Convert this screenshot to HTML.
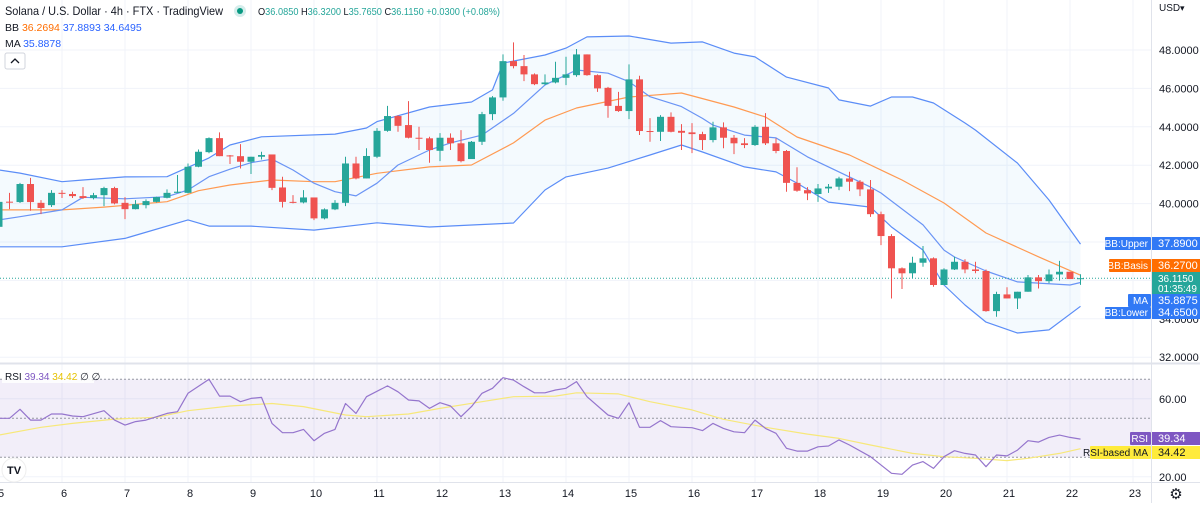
<!DOCTYPE html>
<html><head><meta charset="utf-8">
<style>
html,body{margin:0;padding:0;background:#fff;}
body{width:1200px;height:503px;overflow:hidden;font-family:"Liberation Sans",sans-serif;}
svg text{font-family:"Liberation Sans",sans-serif;}
</style></head>
<body>
<svg id="chart" width="1200" height="503" viewBox="0 0 1200 503" xmlns="http://www.w3.org/2000/svg"></svg>
<script>
const opens=[38.79,40.10,40.08,41.02,40.04,39.92,40.56,40.50,40.39,40.29,40.44,40.81,40.04,39.71,39.92,40.09,40.30,40.56,40.56,41.92,42.68,43.41,42.51,42.47,42.18,42.44,42.56,40.84,40.09,40.06,40.32,39.23,39.70,40.04,42.09,41.31,42.44,43.79,44.56,44.09,43.43,43.40,42.75,43.43,43.14,42.32,43.22,44.66,45.53,47.42,47.16,46.73,46.22,46.31,46.55,46.69,47.77,46.69,46.03,45.09,44.82,46.47,43.78,43.74,44.52,43.79,43.71,43.62,43.31,43.97,43.43,43.14,43.05,44.00,43.14,42.74,41.08,40.70,40.50,40.79,40.88,41.31,41.14,40.74,39.45,38.31,36.63,36.37,36.92,37.15,35.76,36.57,36.97,36.57,36.49,34.40,35.27,35.06,35.41,36.16,35.96,36.31,36.45,36.085];
const closes=[40.09,40.07,41.02,40.08,39.77,40.56,40.55,40.39,40.29,40.44,40.81,40.01,39.71,39.97,40.13,40.34,40.56,40.62,41.92,42.70,43.41,42.47,42.49,42.18,42.44,42.53,40.82,40.09,40.08,40.32,39.23,39.70,40.04,42.09,41.31,42.48,43.79,44.56,44.05,43.43,43.42,42.79,43.43,43.14,42.21,43.22,44.66,45.53,47.42,47.16,46.73,46.22,46.31,46.55,46.73,47.77,46.69,46.00,45.09,44.82,46.47,43.78,43.77,44.52,43.74,43.69,43.62,43.31,43.97,43.43,43.14,43.05,44.00,43.14,42.74,41.08,40.67,40.53,40.79,40.88,41.31,41.14,40.74,39.45,38.31,36.63,36.37,36.92,37.15,35.76,36.57,36.97,36.57,36.49,34.40,35.29,35.06,35.41,36.16,35.96,36.31,36.45,36.07,36.115];
const highs=[40.39,40.56,41.08,41.34,40.18,40.70,40.70,40.62,40.86,40.56,40.88,40.88,40.34,40.18,40.22,40.36,40.74,41.49,42.09,42.82,43.45,43.71,42.53,43.10,42.44,42.70,42.56,41.40,40.44,40.70,40.32,39.75,40.18,42.44,42.44,42.88,43.93,45.09,44.61,45.34,44.00,43.48,43.67,43.66,43.83,43.26,44.78,45.60,47.77,48.40,47.74,46.78,46.73,47.39,47.65,48.05,47.77,46.73,46.08,45.82,47.25,46.66,44.45,44.61,44.75,44.14,44.19,43.74,44.26,44.23,43.57,43.41,44.09,44.71,43.40,42.79,41.89,40.86,41.02,41.02,41.40,41.66,41.23,41.23,39.58,38.41,36.68,37.23,37.79,37.20,36.63,37.23,37.10,36.97,36.57,35.41,35.64,35.41,36.28,36.28,36.57,37.02,36.45,36.32];
const lows=[38.52,39.71,40.03,39.63,39.45,39.82,40.29,40.29,40.24,40.22,39.87,39.96,39.19,39.70,39.75,40.06,40.27,40.56,40.53,41.89,42.62,42.47,42.06,41.83,41.54,42.30,40.70,39.80,40.01,40.01,39.14,39.18,39.66,39.87,41.26,41.31,42.37,43.74,43.74,43.40,42.79,42.13,42.21,42.79,42.15,42.32,43.05,44.35,45.36,47.04,46.38,46.17,46.17,46.26,46.17,46.61,46.66,45.82,44.47,44.78,44.40,43.57,43.22,43.26,43.71,42.79,42.63,42.79,43.19,42.88,42.58,42.89,43.00,43.05,42.62,40.62,40.62,40.18,40.09,40.56,40.70,40.65,40.39,39.31,37.84,35.06,35.55,36.12,36.71,35.67,35.76,36.54,36.37,36.37,34.37,34.11,35.06,34.51,35.41,35.58,35.85,35.99,36.07,35.765];
const upperIdx=[0,2,6,8,12,16,19,20,22,25,32,35,36,41,45,47,48,52,54,56,60,64,67,70,72,75,79,80,83,85,87,89,92,93,97,100,103];
const upperVals=[41.75,41.59,41.14,41.23,41.39,41.40,42.13,42.38,43.05,43.48,43.62,43.94,44.27,45.03,45.29,45.92,47.32,47.74,48.10,48.68,48.73,48.36,48.42,47.84,47.64,46.59,46.02,45.40,45.08,45.55,45.55,45.24,44.20,43.83,42.11,40.19,37.89];
const basisIdx=[0,6,10,16,19,22,26,30,32,36,41,45,49,52,55,60,65,70,73,76,81,86,90,94,99,103];
const basisVals=[39.67,39.67,39.82,40.10,40.67,40.97,41.23,41.14,41.14,41.58,41.91,42.01,43.16,44.35,44.98,45.55,45.76,45.03,44.51,43.47,42.53,41.23,40.03,38.47,37.23,36.27];
const lowerIdx=[0,6,12,18,20,24,30,36,41,49,52,54,58,62,65,67,71,74,76,79,83,85,88,90,92,94,97,100,103];
const lowerVals=[37.75,37.75,38.19,39.15,38.83,38.83,38.62,39.00,38.78,38.99,40.71,41.39,41.85,42.53,43.05,42.69,41.91,41.65,41.07,40.08,39.82,38.78,37.58,35.76,34.72,33.83,33.26,33.42,34.65];
const maIdx=[0,2,6,8,12,16,18,20,22,24,26,28,30,32,34,36,38,41,43,46,49,52,55,58,60,62,65,67,68,71,74,77,80,83,84,88,90,91,94,97,102,103];
const maVals=[39.15,39.32,39.67,40.33,40.25,40.36,40.71,41.40,41.79,42.13,42.31,41.75,41.06,40.62,40.40,41.06,42.01,42.79,43.16,43.57,44.70,46.18,46.96,46.79,46.35,45.57,45.05,44.44,44.09,43.57,43.42,42.43,41.65,40.86,40.55,38.89,37.58,37.22,36.49,35.92,35.76,35.89];
const rsiIdx=[0,1,2,3,4,5,6,7,8,10,11,12,13,14,16,17,18,20,21,22,23,24,25,26,27,28,29,30,31,32,33,34,35,37,38,39,40,41,42,43,44,45,46,47,48,49,50,51,52,53,54,55,56,58,59,60,61,62,63,64,65,66,67,68,69,70,71,72,73,74,75,76,77,78,79,80,81,83,85,86,87,88,89,90,91,92,93,94,95,96,97,98,99,100,101,102,103];
const rsiVals=[50.0,50.0,54.6,49.1,49.1,52.2,52.2,51.2,50.8,53.9,49.1,46.5,48.3,49.1,52.5,53.4,62.8,70.0,61.4,61.4,58.5,60.2,60.7,47.4,42.6,42.6,44.3,38.5,42.3,44.3,57.6,52.5,61.1,66.6,63.6,59.4,58.9,55.1,58.0,56.3,50.8,56.0,62.8,65.4,70.8,69.6,66.2,63.1,63.1,64.5,65.4,68.8,61.1,51.7,50.0,58.0,45.4,45.4,48.8,45.7,45.4,45.2,43.7,47.4,44.8,43.1,42.6,49.1,44.8,42.3,34.6,33.2,33.2,35.4,35.8,38.9,36.3,30.3,21.8,21.3,26.0,27.8,24.3,30.3,33.4,32.0,31.2,25.2,31.2,30.7,33.7,38.5,37.8,40.2,41.4,40.2,39.34];
const rsiMaIdx=[0,4,7,11,15,18,22,26,29,33,35,39,42,46,49,53,55,59,62,66,69,73,77,80,83,87,90,93,96,98,101,103];
const rsiMaVals=[41.4,45.4,47.4,49.6,50.5,53.9,56.3,57.6,56.0,51.7,50.8,52.2,55.1,58.5,61.1,61.4,63.1,62.5,58.5,54.3,49.5,45.4,41.9,39.7,36.3,32.0,30.3,29.5,28.3,29.5,32.0,34.42];
const priceTicks=[48,46,44,42,40,38,36,34,32];
const rsiTicks=[60,20];
const rsiLevels=[70,50,30];
const dayLabels=["5","6","7","8","9","10","11","12","13","14","15","16","17","18","19","20","21","22","23"];

const NS="http://www.w3.org/2000/svg";
const svg=document.getElementById('chart');
const PLOT_R=1151;
const X=k=>-1+10.5*k;
const Y=p=>50+(48-p)*19.2;
const YR=v=>379.3+(70-v)*1.95;
function mk(tag,attrs,parent){const e=document.createElementNS(NS,tag);for(const a in attrs)e.setAttribute(a,attrs[a]);(parent||svg).appendChild(e);return e;}
function txt(s,x,y,attrs,parent){const e=mk('text',Object.assign({x:x,y:y},attrs),parent);e.textContent=s;return e;}

const grid=mk('g',{});


dayLabels.forEach((d,i)=>{const x=X(i*6);mk('line',{x1:x,x2:x,y1:0,y2:482,stroke:'#f0f3fa','stroke-width':1},grid);});
priceTicks.forEach(p=>{mk('line',{x1:0,x2:PLOT_R,y1:Y(p),y2:Y(p),stroke:'#f0f3fa'},grid);});
rsiTicks.forEach(v=>{mk('line',{x1:0,x2:PLOT_R,y1:YR(v),y2:YR(v),stroke:'#f0f3fa'},grid);});

function pts(idx,vals,f){return idx.map((k,i)=>X(k).toFixed(1)+','+f(vals[i]).toFixed(1));}
const fill=mk('polygon',{points:pts(upperIdx,upperVals,Y).concat(pts(lowerIdx,lowerVals,Y).reverse()).join(' '),fill:'rgba(33,150,243,0.05)'});


function line(idx,vals,f,color,name,w){const e=mk('polyline',{points:pts(idx,vals,f).join(' '),fill:'none',stroke:color,'stroke-width':w||1.2,'stroke-linejoin':'round'});return e;}
line(upperIdx,upperVals,Y,'#5b8df7','bb-upper-line');
line(lowerIdx,lowerVals,Y,'#5b8df7','bb-lower-line');
line(basisIdx,basisVals,Y,'#ff9a52','bb-basis-line');
line(maIdx,maVals,Y,'#6a94f5','ma-line');

const pl=mk('line',{x1:0,x2:PLOT_R,y1:Y(36.115),y2:Y(36.115),stroke:'#26a69a','stroke-dasharray':'1 2','stroke-width':1});



const cg=mk('g',{});


opens.forEach((o,k)=>{
  const c=closes[k],up=c>=o,col=up?'#26a69a':'#ef5350',x=X(k);
  const g=mk('g',{},cg);
  
  
  mk('line',{x1:x,x2:x,y1:Y(highs[k]),y2:Y(lows[k]),stroke:col,'stroke-width':1},g);
  const t=Y(Math.max(o,c)),b=Y(Math.min(o,c));
  mk('rect',{x:x-3.5,y:t,width:7,height:Math.max(1,b-t),fill:col},g);
});

mk('line',{x1:0,x2:1200,y1:363.5,y2:363.5,stroke:'#e0e3eb','stroke-width':2});
mk('line',{x1:PLOT_R+0.5,x2:PLOT_R+0.5,y1:0,y2:503,stroke:'#e0e3eb'});
mk('line',{x1:0,x2:1200,y1:482.5,y2:482.5,stroke:'#e0e3eb'});

const rf=mk('rect',{x:0,y:YR(70),width:PLOT_R,height:YR(30)-YR(70),fill:'rgba(126,87,194,0.1)'});


rsiLevels.forEach(v=>{const l=mk('line',{x1:0,x2:PLOT_R,y1:YR(v),y2:YR(v),stroke:'#9598a1','stroke-dasharray':'2 2','stroke-width':1});});
line(rsiMaIdx,rsiMaVals,YR,'#f7e87a','rsi-ma-line',1.2);
line(rsiIdx,rsiVals,YR,'#9575cd','rsi-line',1.2);

const ax=mk('g',{'font-size':11,fill:'#131722'});


priceTicks.forEach(p=>txt(p.toFixed(4),1159,Y(p)+4,{},ax));
rsiTicks.forEach(v=>txt(v.toFixed(2),1159,YR(v)+4,{},ax));
txt('USD',1159,11,{'font-size':10},ax);
txt('▾',1180,11,{'font-size':9},ax);

const tx=mk('g',{'font-size':11,fill:'#131722','text-anchor':'middle'});


dayLabels.forEach((d,i)=>txt(d,X(i*6)+2,497,{},tx));

function tag(label,val,y,h,bg,fg,lx,name){
  const g=mk('g',{});
  
  
  if(label){mk('rect',{x:lx,y:y,width:PLOT_R-lx,height:h,fill:bg,rx:1},g);txt(label,PLOT_R-3,y+h-3,{'font-size':10,fill:fg,'text-anchor':'end'},g);}
  mk('rect',{x:PLOT_R+1,y:y,width:48,height:h,fill:bg},g);
  txt(val,1158,y+h-3,{'font-size':11,fill:fg},g);
}
tag('BB:Upper','37.8900',237,13,'#3179f5','#fff',1105,'bb-upper-tag');
tag('BB:Basis','36.2700',259,13,'#ff6d00','#fff',1109,'bb-basis-tag');
const cp=mk('g',{});


mk('rect',{x:PLOT_R+1,y:272,width:48,height:22,fill:'#26a69a'},cp);
txt('36.1150',1158,282,{'font-size':10,fill:'#fff'},cp);
txt('01:35:49',1158,292,{'font-size':10,fill:'#fff'},cp);
tag('MA','35.8875',294,13,'#3179f5','#fff',1128,'ma-tag');
tag('BB:Lower','34.6500',307,12,'#3179f5','#fff',1105,'bb-lower-tag');
tag('RSI','39.34',432,13,'#7e57c2','#fff',1130,'rsi-tag');
tag('RSI-based MA','34.42',446,13,'#ffeb3b','#131722',1090,'rsi-ma-tag');

const gear=txt('⚙',1176,499,{'font-size':15,fill:'#131722','text-anchor':'middle'});



const lg=mk('g',{});


txt('Solana / U.S. Dollar · 4h · FTX · TradingView',5,15,{'font-size':12,fill:'#131722',textLength:218,lengthAdjust:'spacingAndGlyphs'},lg);
mk('circle',{cx:240,cy:11,r:6,fill:'rgba(38,166,154,0.2)'},lg);
mk('circle',{cx:240,cy:11,r:3,fill:'#089981'},lg);
const oh=txt('',258,15,{'font-size':10.5,fill:'#26a69a',textLength:242,lengthAdjust:'spacingAndGlyphs'},lg);
[['O','36.0850 '],['H','36.3200 '],['L','35.7650 '],['C','36.1150 '],['','+0.0300 (+0.08%)']].forEach(([a,b])=>{
  const s1=document.createElementNS(NS,'tspan');s1.setAttribute('fill','#131722');s1.textContent=a;oh.appendChild(s1);
  const s2=document.createElementNS(NS,'tspan');s2.textContent=b;oh.appendChild(s2);
});
const bb=txt('',5,31,{'font-size':10.5,fill:'#131722'},lg);
bb.innerHTML='BB <tspan fill="#ff6d00">36.2694</tspan> <tspan fill="#2962ff">37.8893</tspan> <tspan fill="#2962ff">34.6495</tspan>';
const ma=txt('',5,47,{'font-size':10.5,fill:'#131722'},lg);
ma.innerHTML='MA <tspan fill="#2962ff">35.8878</tspan>';
const chev=mk('rect',{x:5,y:53,width:20,height:16,rx:2,fill:'#fff',stroke:'#d1d4dc'});


mk('path',{d:'M11 63 L15 59 L19 63',fill:'none',stroke:'#131722','stroke-width':1.3});
mk('rect',{x:2,y:370,width:92,height:13,fill:'rgba(255,255,255,0.85)'});
const rlt=txt('',5,380,{'font-size':10,fill:'#131722'});


rlt.innerHTML='RSI <tspan fill="#7e57c2">39.34</tspan> <tspan fill="#e6c200">34.42</tspan> ∅ ∅';

const logo=mk('g',{});


mk('circle',{cx:14,cy:470,r:12,fill:'#fff',stroke:'#eee'},logo);
txt('TV',14,474,{'font-size':11,'font-weight':'bold',fill:'#131722','text-anchor':'middle'},logo);
</script>
</body></html>
